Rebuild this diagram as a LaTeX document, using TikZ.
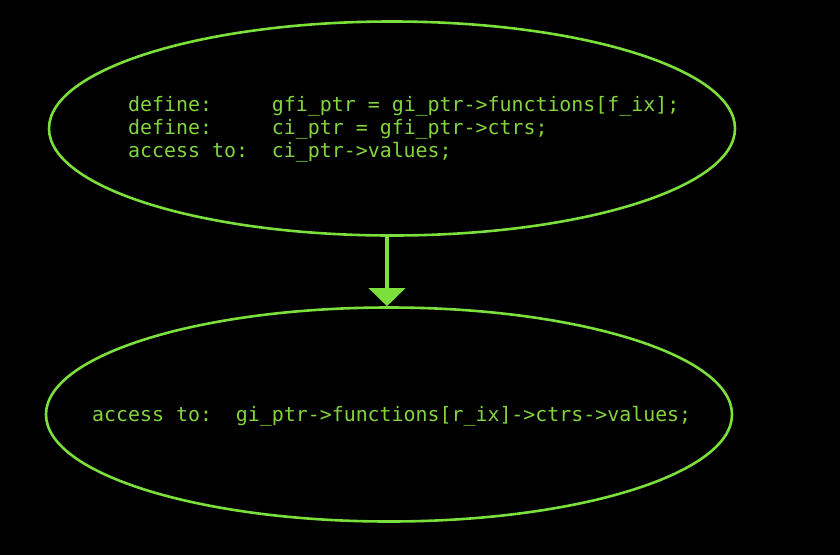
\documentclass[tikz,border=0pt]{standalone}
\usepackage{fontspec}
\setmonofont{DejaVu Sans Mono}
\usetikzlibrary{shapes.geometric,arrows.meta}
\definecolor{edgegreen}{HTML}{7BE03C}
\definecolor{txtgreen}{HTML}{84D43E}
\tikzset{
  bubble/.style={ellipse, draw=edgegreen, line width=2.6pt, minimum width=686pt, minimum height=214pt, inner sep=0pt},
  code/.style={anchor=base west, inner sep=0pt, text=txtgreen, font=\fontsize{19.9}{23}\selectfont\ttfamily},
  flow/.style={draw=edgegreen, line width=3.6pt, -{Triangle[width=36pt,length=18pt]}}
}
\begin{document}
\begin{tikzpicture}[x=1pt,y=-1pt]
\fill[black] (0,0) rectangle (840,555);
\useasboundingbox (0,0) rectangle (840,555);
\node[bubble] (top) at (392,128.5) {};
\node[bubble] (bot) at (389,414.5) {};
\node[code] (t1) at (128,111.5) {define:\ \ \ \ \ gfi\_ptr = gi\_ptr->functions[f\_ix];};
\node[code] (t2) at (128,134.5) {define:\ \ \ \ \ ci\_ptr = gfi\_ptr->ctrs;};
\node[code] (t3) at (128,157.5) {access to:\ \ ci\_ptr->values;};
\node[code] (b1) at (92,421) {access to:\ \ gi\_ptr->functions[r\_ix]->ctrs->values;};
\draw[flow] (top.south -| 387,0) -- (bot.north -| 387,0);
\end{tikzpicture}
\end{document}
